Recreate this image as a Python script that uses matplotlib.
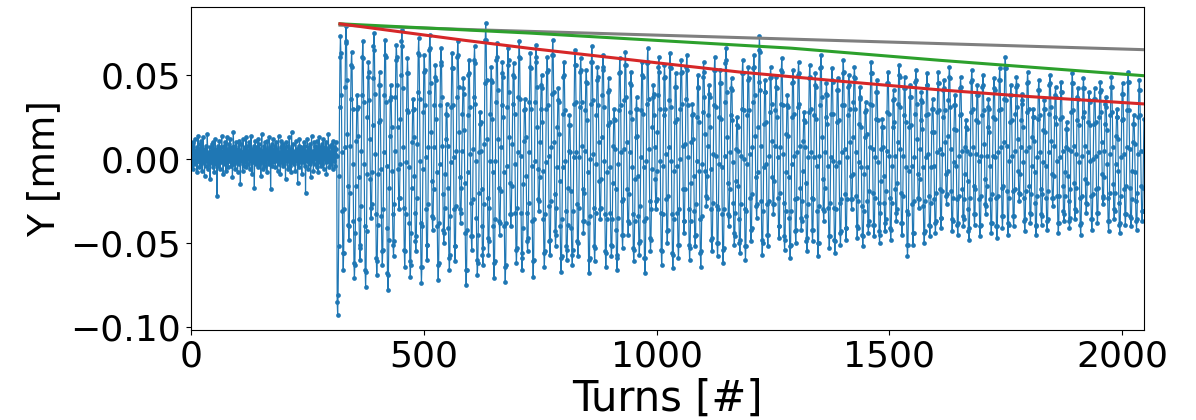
import numpy as np
import matplotlib
matplotlib.use("Agg")
import matplotlib.pyplot as plt

# Turn-by-turn vertical BPM reading, in micrometres (converted to mm below).
# Turns 0-313: closed orbit noise before the kick.
y_pre_kick_um = [
    3, -4, 8, 2, -6, 10, 1, -3, 12, 5, -2, 0, 7, -8, 4, 14, -1, 6, -5, 2,
    9, -3, 11, 0, -7, 5, 13, -2, 3, -10, 6, 1, -4, 8, -1, 15, 2, -6, 4, -3,
    7, -12, 0, 5, -2, 9, 3, -5, 10, -1, -8, 4, 12, -3, 1, 6, -22, 2, 8, -4,
    0, 11, -6, 3, 7, -2, 14, -1, 5, -9, 2, 8, -3, 10, 4, -7, 1, 13, -2, 6,
    -5, 3, 9, -1, 12, 0, -4, 7, 2, -11, 5, 16, -3, 1, 8, -6, 4, 10, -2, 3,
    -8, 6, 0, 11, -3, 5, -15, 2, 9, -1, 4, -7, 12, 1, -4, 7, 3, -2, 13, -5,
    2, 8, -3, 5, 0, 10, -6, 4, -1, 14, 3, -9, 6, -2, 1, 8, -17, 5, 11, -3,
    4, -1, 7, -5, 12, 2, -3, 9, 0, 6, -10, 3, 15, -2, 5, -6, 8, 1, -4, 10,
    -2, 6, 3, -8, 11, 0, 5, -3, 13, -1, 7, -18, 2, 9, -4, 4, 12, -2, 6, 0,
    8, -5, 3, 10, -1, 6, -7, 2, 14, -3, 4, 1, -9, 7, 11, -2, 5, -4, 9, 0,
    -3, 7, 2, -12, 5, 10, -1, 3, -6, 8, 0, 13, -4, 6, 2, -8, 16, 1, -2, 5,
    9, -3, 4, 0, -7, 11, 3, -1, 6, -14, 2, 8, -5, 12, 1, -2, 7, 4, -9, 3,
    6, -2, 10, 1, -4, 8, -20, 3, 5, -1, 12, 0, -6, 7, 2, -3, 9, -11, 4, 14,
    -1, 5, 2, -7, 10, 3, -3, 8, 0, 6, -5, 11, 2, -8, 4, 13, -2, 7, 1, -4,
    5, 9, -3, 2, 12, -6, 4, 0, 7, -2, 10, -9, 3, 6, -1, 15, 2, -5, 8, 1,
    4, -3, 9, 2, -6, 11, 5, -1, 7, 3, -4, 10, 6, 2,
]

# Turns 314-2047: betatron oscillation after the kick.
y_post_kick_um = [
    -85,
    -93, -81, -52, -10, 31, 61,
    73, 63, 38, 4, -31, -56, -66, -56, -30, 7, 43, 69,
    79, 70, 47, 15, -16, -39, -48, -40, -20, 8, 36, 56,
    64, 55, 30, -3, -37, -62, -71, -63, -44, -16, 11, 30,
    38, 31, 14, -11, -36, -53, -60, -51, -28, 5, 38, 61,
    70, 60, 34, -3, -40, -66, -76, -67, -43, -9, 25, 49,
    58, 52, 35, 12, -12, -29, -35, -27, -8, 20, 48, 67,
    75, 65, 39, 3, -33, -59, -69, -61, -39, -9, 22, 44,
    52, 44, 23, -6, -34, -55, -63, -54, -30, 4, 38, 62,
    71, 61, 34, -4, -41, -68, -78, -69, -48, -17, 14, 35,
    44, 37, 19, -7, -33, -51, -58, -49, -27, 5, 37, 59,
    68, 61, 44, 19, -6, -23, -30, -23, -3, 24, 50, 70,
    77, 67, 42, 7, -29, -54, -64, -55, -33, -2, 29, 51,
    60, 51, 28, -5, -38, -61, -70, -63, -44, -17, 10, 29,
    36, 30, 13, -10, -32, -49, -55, -46, -23, 9, 40, 63,
    72, 62, 36, -1, -38, -64, -74, -64, -40, -6, 28, 52,
    62, 53, 32, 1, -30, -51, -60, -51, -27, 7, 40, 65,
    74, 66, 45, 16, -13, -34, -42, -35, -18, 7, 32, 49,
    56, 47, 24, -8, -40, -63, -72, -62, -38, -3, 32, 56,
    66, 58, 37, 8, -21, -42, -50, -44, -29, -9, 12, 27,
    33, 26, 8, -17, -41, -59, -66, -57, -34, -2, 31, 54,
    63, 54, 32, 1, -30, -52, -61, -52, -28, 5, 37, 61,
    70, 62, 43, 16, -11, -30, -38, -32, -17, 5, 27, 42,
    48, 39, 17, -14, -44, -66, -75, -66, -42, -8, 26, 50,
    59, 51, 31, 3, -26, -46, -54, -46, -24, 6, 37, 59,
    67, 57, 33, -1, -35, -60, -69, -62, -45, -20, 4, 21,
    28, 22, 5, -18, -40, -57, -63, -53, -27, 9, 45, 71,
    81, 71, 47, 12, -23, -47, -57, -49, -29, -1, 27, 47,
    55, 46, 24, -8, -40, -62, -71, -61, -36, -1, 34, 59,
    69, 61, 41, 12, -17, -37, -45, -38, -19, 7, 32, 51,
    58, 49, 25, -8, -40, -64, -73, -63, -38, -4, 31, 56,
    66, 59, 40, 13, -14, -33, -40, -33, -16, 9, 33, 50,
    57, 49, 27, -3, -32, -54, -62, -53, -29, 4, 37, 61,
    70, 60, 36, 2, -32, -56, -66, -59, -41, -15, 11, 29,
    36, 30, 13, -10, -32, -49, -55, -47, -26, 4, 34, 55,
    63, 54, 30, -4, -37, -61, -70, -60, -36, -1, 34, 58,
    68, 61, 43, 19, -6, -24, -31, -25, -11, 10, 30, 44,
    50, 42, 22, -7, -36, -56, -64, -55, -33, -2, 30, 52,
    61, 53, 32, 2, -28, -49, -57, -48, -25, 7, 39, 62,
    71, 62, 40, 10, -21, -43, -52, -45, -29, -5, 19, 35,
    42, 34, 15, -13, -40, -59, -67, -58, -36, -5, 27, 49,
    58, 50, 29, -1, -31, -52, -60, -54, -39, -17, 5, 20,
    26, 20, 4, -19, -41, -57, -63, -54, -31, 1, 33, 56,
    65, 56, 34, 4, -27, -49, -58, -50, -29, 1, 31, 52,
    60, 53, 34, 8, -18, -37, -44, -37, -20, 5, 29, 46,
    53, 45, 23, -8, -38, -60, -68, -59, -34, 0, 33, 58,
    67, 58, 35, 3, -29, -52, -61, -53, -32, -3, 26, 47,
    55, 49, 32, 10, -13, -30, -36, -29, -12, 13, 38, 55,
    62, 53, 31, -1, -33, -55, -64, -56, -36, -8, 20, 40,
    48, 41, 22, -5, -32, -51, -58, -52, -36, -14, 8, 24,
    30, 23, 6, -18, -42, -59, -66, -57, -35, -3, 29, 51,
    60, 52, 32, 4, -25, -45, -53, -45, -24, 6, 35, 56,
    64, 56, 37, 10, -18, -37, -45, -38, -21, 4, 28, 45,
    52, 44, 24, -5, -33, -53, -61, -54, -37, -12, 13, 30,
    37, 30, 14, -10, -34, -50, -57, -49, -28, 1, 29, 50,
    58, 49, 27, -5, -37, -59, -68, -59, -35, -1, 33, 57,
    66, 58, 36, 6, -25, -47, -55, -48, -30, -6, 19, 37,
    44, 39, 26, 7, -12, -25, -30, -24, -7, 16, 38, 55,
    61, 52, 30, -1, -32, -54, -63, -55, -33, -4, 26, 48,
    56, 49, 30, 3, -24, -43, -50, -42, -22, 7, 35, 55,
    63, 54, 31, -1, -33, -56, -65, -57, -36, -7, 22, 43,
    51, 43, 24, -4, -32, -51, -59, -51, -30, 0, 30, 51,
    59, 52, 33, 8, -18, -37, -44, -37, -18, 9, 36, 55,
    62, 53, 32, 1, -30, -51, -60, -53, -37, -14, 10, 26,
    33, 27, 12, -10, -31, -46, -52, -45, -27, -1, 25, 43,
    50, 42, 22, -7, -36, -56, -64, -55, -34, -3, 28, 49,
    58, 52, 37, 15, -7, -22, -28, -23, -10, 8, 26, 39,
    44, 37, 19, -6, -30, -48, -55, -47, -26, 3, 32, 53,
    61, 53, 31, 2, -28, -50, -58, -50, -30, -3, 25, 45,
    53, 45, 24, -5, -33, -54, -62, -53, -30, 2, 34, 57,
    66, 59, 40, 13, -14, -33, -40, -34, -18, 4, 26, 42,
    48, 41, 23, -2, -26, -44, -51, -46, -32, -13, 6, 20,
    25, 19, 5, -16, -36, -50, -56, -48, -27, 2, 30, 51,
    59, 51, 29, 0, -30, -52, -60, -52, -31, -3, 26, 47,
    55, 48, 29, 3, -23, -42, -49, -41, -21, 7, 34, 54,
    62, 55, 38, 14, -11, -28, -35, -27, -8, 19, 46, 65,
    73, 64, 41, 8, -25, -48, -57, -50, -31, -5, 21, 40,
    47, 40, 22, -3, -27, -45, -52, -45, -25, 2, 28, 48,
    55, 49, 33, 11, -11, -27, -33, -27, -13, 8, 29, 43,
    49, 42, 25, 1, -23, -40, -47, -40, -20, 7, 33, 53,
    60, 52, 32, 3, -26, -46, -54, -48, -31, -8, 15, 32,
    38, 31, 14, -11, -35, -52, -59, -51, -31, -3, 25, 45,
    53, 46, 27, 2, -24, -43, -50, -42, -23, 4, 31, 50,
    58, 51, 33, 8, -17, -35, -42, -37, -25, -7, 11, 23,
    28, 22, 7, -14, -34, -49, -55, -47, -27, 1, 28, 48,
    56, 49, 30, 4, -23, -42, -49, -42, -24, 1, 26, 44,
    51, 43, 24, -4, -31, -50, -58, -50, -28, 2, 32, 54,
    62, 55, 37, 13, -12, -30, -37, -31, -17, 4, 25, 39,
    45, 38, 21, -4, -29, -46, -53, -46, -26, 1, 27, 47,
    54, 46, 27, -1, -29, -48, -56, -49, -30, -4, 22, 41,
    48, 41, 23, -2, -26, -44, -51, -43, -24, 4, 32, 51,
    59, 52, 32, 6, -21, -41, -48, -41, -24, 1, 26, 43,
    50, 44, 30, 10, -10, -24, -30, -24, -9, 13, 34, 49,
    55, 48, 30, 4, -22, -40, -47, -41, -25, -2, 21, 37,
    43, 36, 19, -5, -28, -45, -52, -46, -31, -9, 13, 28,
    34, 29, 15, -5, -25, -39, -44, -37, -19, 7, 33, 51,
    58, 51, 32, 6, -20, -39, -46, -39, -23, 1, 24, 40,
    47, 40, 23, -2, -26, -43, -50, -45, -32, -13, 6, 19,
    24, 19, 7, -10, -26, -38, -43, -36, -19, 5, 28, 45,
    52, 45, 27, 2, -23, -41, -48, -42, -26, -4, 19, 35,
    41, 36, 22, 2, -18, -32, -37, -30, -14, 10, 33, 50,
    56, 49, 31, 6, -20, -38, -45, -38, -22, 2, 26, 42,
    49, 42, 22, -5, -31, -51, -58, -51, -33, -7, 19, 37,
    44, 37, 20, -4, -27, -44, -51, -44, -25, 1, 27, 46,
    53, 47, 33, 12, -9, -23, -29, -24, -12, 6, 23, 35,
    40, 34, 18, -5, -28, -44, -50, -43, -25, 1, 26, 44,
    51, 44, 27, 3, -22, -39, -46, -40, -26, -5, 16, 30,
    36, 30, 16, -4, -24, -38, -44, -37, -20, 4, 28, 45,
    52, 45, 29, 6, -18, -35, -41, -35, -19, 3, 25, 41,
    47, 42, 29, 10, -9, -22, -27, -21, -7, 14, 35, 49,
    55, 48, 31, 6, -19, -36, -43, -37, -23, -2, 18, 32,
    38, 32, 17, -4, -24, -39, -45, -38, -22, 2, 26, 42,
    49, 43, 27, 5, -18, -34, -40, -36, -24, -9, 7, 19,
    23, 18, 5, -13, -30, -43, -48, -41, -23, 3, 28, 46,
    53, 47, 30, 7, -16, -33, -39, -33, -18, 3, 23, 38,
    44, 38, 22, -1, -24, -40, -46, -39, -22, 2, 26, 43,
    50, 44, 29, 9, -12, -27, -33, -28, -16, 2, 19, 31,
    36, 30, 16, -4, -24, -38, -44, -38, -21, 2, 25, 42,
    48, 41, 24, 1, -23, -40, -47, -40, -22, 4, 29, 47,
    54, 47, 30, 7, -17, -34, -41, -34, -16, 10, 36, 54,
    61, 54, 35, 8, -19, -38, -45, -39, -23, -1, 22, 38,
    44, 38, 23, 2, -19, -34, -40, -34, -18, 5, 27, 43,
    49, 44, 31, 12, -7, -20, -25, -21, -9, 7, 23, 35,
    39, 33, 19, -2, -23, -37, -43, -36, -19, 5, 28, 45,
    52, 46, 30, 7, -16, -32, -38, -33, -21, -4, 13, 25,
    30, 25, 11, -8, -26, -40, -45, -39, -22, 1, 24, 41,
    47, 41, 26, 4, -18, -33, -39, -34, -21, -2, 17, 30,
    35, 30, 16, -4, -23, -37, -42, -36, -19, 4, 27, 44,
    50, 45, 31, 11, -9, -23, -28, -23, -10, 8, 25, 38,
    43, 37, 21, -1, -22, -38, -44, -38, -22, 1, 24, 40,
    46, 40, 25, 5, -16, -31, -37, -33, -22, -8, 7, 18,
    22, 18, 6, -10, -25, -37, -41, -35, -18, 5, 28, 45,
    51, 45, 29, 8, -14, -30, -36, -31, -17, 3, 23, 37,
    42, 36, 20, -2, -23, -39, -45, -38, -22, 2, 25, 42,
    48, 42, 28, 8, -12, -26, -32, -27, -14, 4, 22, 35,
    40, 34, 20, -1, -22, -36, -42, -36, -21, 0, 21, 36,
    42, 36, 22, 2, -18, -32, -38, -32, -17, 4, 25, 40,
    46, 41, 28, 10, -9, -22, -27, -23, -11, 5, 21, 33,
    37, 31, 17, -3, -23, -37, -43, -37, -20, 3, 26, 43,
    49, 43, 28, 7, -15, -30, -36, -31, -20, -3, 14, 25,
    30, 25, 12, -7, -26, -39, -44, -38, -22, 1, 23, 39,
    45, 39, 24, 3, -18, -33, -39, -33, -16, 7, 29, 46,
    52, 46, 29, 6, -17, -34, -40, -35, -24, -7, 10, 21,
    26, 21, 9, -8, -25, -37, -42, -36, -20, 3, 25, 41,
    47, 41, 26, 5, -16, -31, -37, -31, -17, 4, 24,
]

# Amplitude envelopes fitted to the oscillation peaks, read at a few turns.
grey_turns = [320, 605, 1178, 2047]
grey_mm = [0.0797, 0.0770, 0.0723, 0.0651]
green_turns = [320, 727, 1289, 1607, 2047]
green_mm = [0.0805, 0.0750, 0.0660, 0.0588, 0.0496]
red_turns = [320, 442, 584, 727, 871, 1013, 1178, 1400, 1607, 1800, 2047]
red_mm = [0.0805, 0.0760, 0.0708, 0.0659, 0.0614, 0.0569, 0.0518, 0.0462,
          0.0412, 0.0372, 0.0328]

y_mm = np.array(y_pre_kick_um + y_post_kick_um) / 1000.0
turns = np.arange(len(y_mm))

fig = plt.figure(figsize=(11.96, 4.2), dpi=100)
ax = fig.add_axes([0.1597, 0.2143, 0.7968, 0.769])

ax.plot(turns, y_mm, color="#1f77b4", lw=0.85, marker="o", ms=3.4,
        markeredgewidth=0, zorder=2)
ax.plot(grey_turns, grey_mm, color="#7f7f7f", lw=2.2, zorder=3)
ax.plot(green_turns, green_mm, color="#2ca02c", lw=2.2, zorder=4)
ax.plot(red_turns, red_mm, color="#d62728", lw=2.2, zorder=5)

ax.set_xlim(0, 2047)
ax.set_ylim(-0.1018, 0.0905)
ax.set_xticks([0, 500, 1000, 1500, 2000])
ax.set_yticks([-0.10, -0.05, 0.00, 0.05])
ax.tick_params(labelsize=26)
ax.set_xlabel("Turns [#]", fontsize=30, labelpad=3)
ax.set_ylabel("Y [mm]", fontsize=27, labelpad=6)

fig.savefig("out.png", dpi=100)
